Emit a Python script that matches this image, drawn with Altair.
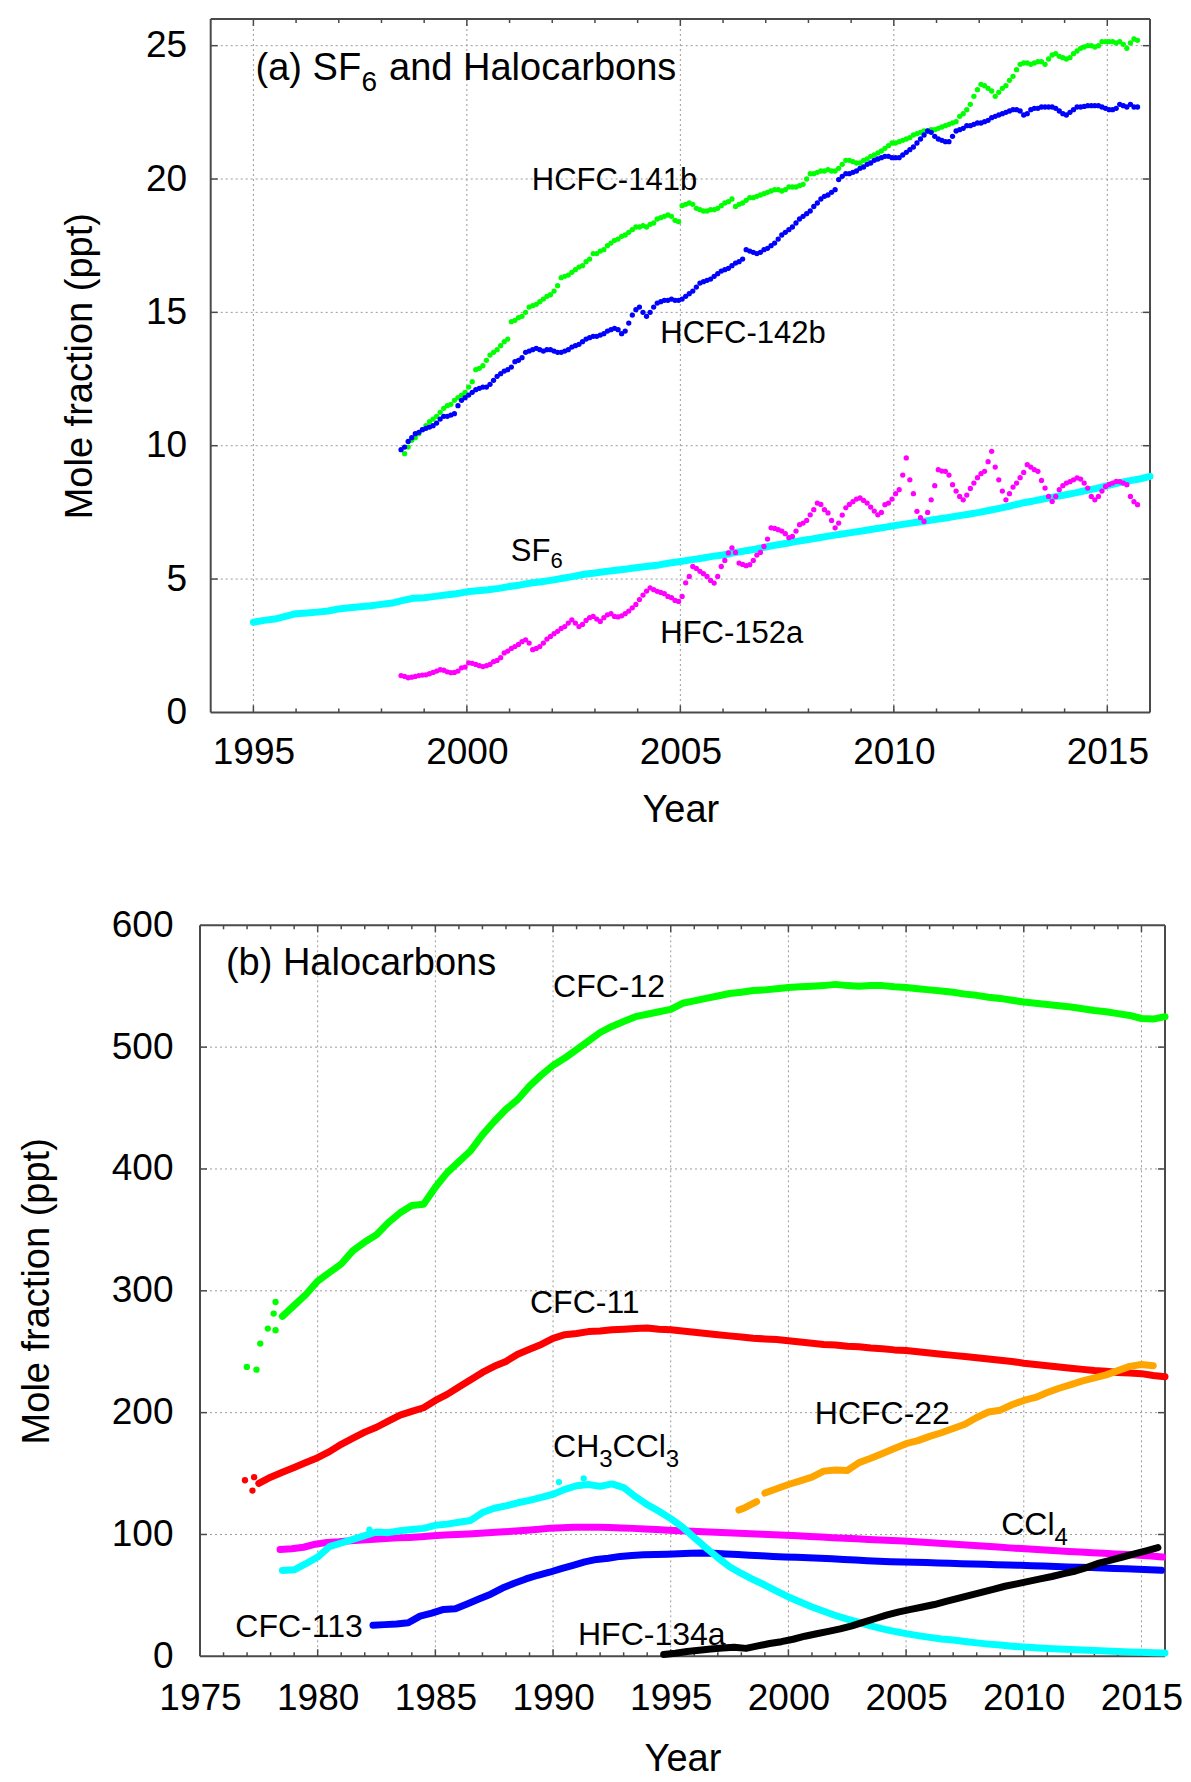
import numpy as np
import pandas as pd
import altair as alt

FONT = "Liberation Sans"

# ---------------- Panel (a): monthly data (ppt) ----------------
HCFC141B_START = 1998 + 6.5 / 12
HCFC141B = [
    9.7, 9.95, 10.2, 10.3, 10.45, 10.6,
    10.75, 10.9, 11.0, 11.1, 11.25, 11.4, 11.5, 11.55, 11.7, 11.8, 11.9, 12.0,
    12.2, 12.4, 12.85, 12.9, 13.0, 13.2, 13.4, 13.5, 13.6, 13.75, 13.9, 14.0,
    14.65, 14.7, 14.8, 14.85, 15.0, 15.2, 15.25, 15.3, 15.4, 15.5, 15.6, 15.66,
    15.8, 16.0, 16.3, 16.35, 16.4, 16.5, 16.6, 16.7, 16.75, 16.9, 17.0, 17.2,
    17.2, 17.3, 17.35, 17.5, 17.6, 17.7, 17.75, 17.85, 17.9, 18.0, 18.1, 18.2,
    18.2, 18.25, 18.2, 18.3, 18.35, 18.5, 18.55, 18.6, 18.65, 18.6, 18.45, 18.4,
    19.0, 19.05, 19.1, 19.05, 18.9, 18.85, 18.8, 18.8, 18.85, 18.85, 18.9, 19.0,
    19.1, 19.15, 19.25, 18.97, 19.05, 19.1, 19.2, 19.3, 19.3, 19.35, 19.4, 19.45,
    19.5, 19.55, 19.6, 19.6, 19.55, 19.6, 19.7, 19.7, 19.7, 19.75, 19.8, 20.0,
    20.2, 20.2, 20.25, 20.3, 20.3, 20.35, 20.3, 20.3, 20.4, 20.55, 20.7, 20.7,
    20.65, 20.6, 20.6, 20.7, 20.75, 20.85, 20.9, 20.98, 21.05, 21.15, 21.25, 21.35,
    21.35, 21.4, 21.45, 21.5, 21.55, 21.65, 21.7, 21.75, 21.8, 21.8, 21.85, 21.85,
    21.9, 21.95, 22.0, 22.05, 22.1, 22.15, 22.35, 22.45, 22.6, 22.8, 23.1, 23.35,
    23.55, 23.5, 23.4, 23.3, 23.1, 23.25, 23.4, 23.5, 23.7, 23.85, 24.1, 24.3,
    24.35, 24.35, 24.3, 24.35, 24.4, 24.4, 24.3, 24.5, 24.65, 24.7, 24.6, 24.55,
    24.5, 24.55, 24.7, 24.8, 24.9, 24.95, 25.0, 25.0, 24.95, 25.0, 25.15, 25.15,
    25.15, 25.15, 25.1, 25.15, 25.05, 24.9, 25.1, 25.25, 25.2,
]

HCFC142B_START = 1998 + 5.5 / 12
HCFC142B = [
    9.85, 9.95, 10.16, 10.3, 10.45, 10.5, 10.6,
    10.65, 10.7, 10.75, 10.85, 11.0, 11.1, 11.1, 11.15, 11.2, 11.5, 11.7, 11.8,
    11.9, 12.0, 12.1, 12.15, 12.2, 12.2, 12.3, 12.45, 12.6, 12.7, 12.8, 12.85,
    12.95, 13.15, 13.2, 13.3, 13.5, 13.55, 13.6, 13.65, 13.6, 13.55, 13.6, 13.6,
    13.55, 13.5, 13.5, 13.55, 13.6, 13.7, 13.75, 13.8, 13.9, 14.0, 14.05, 14.1,
    14.1, 14.15, 14.2, 14.3, 14.35, 14.4, 14.35, 14.2, 14.3, 14.6, 14.9, 15.1,
    15.2, 15.0, 14.85, 15.0, 15.2, 15.35, 15.4, 15.45, 15.45, 15.5, 15.45, 15.45,
    15.5, 15.6, 15.7, 15.8, 15.95, 16.1, 16.15, 16.2, 16.25, 16.35, 16.45, 16.55,
    16.6, 16.65, 16.75, 16.85, 16.9, 17.0, 17.35, 17.3, 17.25, 17.2, 17.25, 17.35,
    17.4, 17.5, 17.6, 17.75, 17.9, 18.0, 18.1, 18.2, 18.35, 18.5, 18.6, 18.7,
    18.8, 18.97, 19.1, 19.25, 19.35, 19.4, 19.5, 19.6, 19.98, 20.1, 20.2, 20.2,
    20.25, 20.3, 20.4, 20.45, 20.55, 20.6, 20.7, 20.75, 20.8, 20.85, 20.85, 20.8,
    20.8, 20.8, 20.9, 21.0, 21.1, 21.2, 21.35, 21.5, 21.65, 21.8, 21.75, 21.6,
    21.5, 21.45, 21.4, 21.4, 21.6, 21.8, 21.85, 21.9, 22.0, 22.0, 22.05, 22.1,
    22.1, 22.15, 22.2, 22.3, 22.35, 22.4, 22.45, 22.5, 22.55, 22.6, 22.6, 22.55,
    22.4, 22.45, 22.6, 22.65, 22.65, 22.7, 22.7, 22.7, 22.7, 22.65, 22.55, 22.45,
    22.4, 22.5, 22.6, 22.7, 22.7, 22.72, 22.75, 22.75, 22.75, 22.75, 22.7, 22.65,
    22.6, 22.6, 22.65, 22.8, 22.75, 22.7, 22.8, 22.7, 22.7,
]

HFC152A_START = 1998 + 5.5 / 12
HFC152A = [
    1.38, 1.35, 1.3, 1.32, 1.35, 1.38, 1.4,
    1.41, 1.45, 1.5, 1.55, 1.6, 1.58, 1.52, 1.49, 1.5, 1.55, 1.67, 1.7,
    1.86, 1.84, 1.8, 1.75, 1.72, 1.75, 1.8, 1.9, 1.95, 2.05, 2.23, 2.3,
    2.4, 2.47, 2.55, 2.65, 2.72, 2.6, 2.35, 2.4, 2.47, 2.6, 2.75, 2.85,
    2.95, 3.04, 3.15, 3.22, 3.35, 3.47, 3.35, 3.22, 3.3, 3.45, 3.55, 3.6,
    3.5, 3.41, 3.55, 3.66, 3.7, 3.6, 3.58, 3.62, 3.7, 3.8, 3.92, 4.05,
    4.23, 4.4, 4.55, 4.67, 4.6, 4.54, 4.5, 4.45, 4.35, 4.3, 4.2, 4.16,
    4.35, 4.86, 5.1, 5.47, 5.4, 5.29, 5.2, 5.1, 4.95, 4.85, 5.1, 5.47,
    5.7, 5.98, 6.17, 6.0, 5.6, 5.55, 5.5, 5.54, 5.7, 5.9, 6.0, 6.22,
    6.5, 6.92, 6.9, 6.85, 6.8, 6.7, 6.55, 6.6, 6.8, 7.04, 7.1, 7.2,
    7.41, 7.6, 7.85, 7.8, 7.6, 7.48, 7.2, 6.92, 7.1, 7.4, 7.67, 7.8,
    7.9, 8.0, 8.04, 7.95, 7.85, 7.7, 7.55, 7.41, 7.5, 7.79, 7.85, 8.0,
    8.2, 8.35, 8.9, 9.54, 8.72, 8.2, 7.54, 7.3, 7.16, 7.5, 7.97, 8.5,
    9.1, 9.05, 9.04, 8.9, 8.54, 8.3, 8.1, 7.97, 8.15, 8.4, 8.6, 8.8,
    8.95, 9.04, 9.4, 9.79, 9.2, 8.72, 8.3, 7.97, 8.2, 8.45, 8.6, 8.8,
    9.0, 9.29, 9.2, 9.1, 9.04, 8.7, 8.41, 8.1, 7.91, 8.1, 8.35, 8.5,
    8.6, 8.65, 8.72, 8.79, 8.75, 8.6, 8.41, 8.1, 7.97, 8.1, 8.3, 8.47,
    8.55, 8.6, 8.66, 8.65, 8.6, 8.54, 8.1, 7.9, 7.79,
]
MONTH = 1 / 12

SF6_START = 1995.0
SF6_STEP = 0.25
SF6 = [
    3.38, 3.45, 3.5, 3.6, 3.7, 3.73, 3.76, 3.8, 3.88, 3.92, 3.96, 4.0,
    4.05, 4.1, 4.2, 4.28, 4.3, 4.35, 4.4, 4.45, 4.52, 4.56, 4.6, 4.65,
    4.72, 4.78, 4.85, 4.9, 4.96, 5.03, 5.1, 5.18, 5.23, 5.28, 5.33, 5.38,
    5.43, 5.48, 5.53, 5.6, 5.66, 5.72, 5.78, 5.85, 5.9, 5.98, 6.05, 6.12,
    6.2, 6.28, 6.34, 6.42, 6.48, 6.55, 6.62, 6.68, 6.74, 6.8, 6.87, 6.93,
    7.0, 7.06, 7.12, 7.18, 7.24, 7.3, 7.37, 7.43, 7.5, 7.58, 7.66, 7.75,
    7.85, 7.92, 8.0, 8.08, 8.15, 8.23, 8.32, 8.4, 8.5, 8.6, 8.68, 8.75, 8.85,
]

# ---------------- Panel (b): half-yearly data (ppt) ----------------
B_STEP = 0.5
CFC12_START = 1978.5
CFC12 = [
    279, 288, 297, 308, 315, 322, 333, 340, 346, 356, 364, 370, 371, 385, 397, 406,
    415, 428, 439, 449, 457, 468, 477, 485, 491, 498, 505, 512, 517, 521, 525, 527,
    529, 531, 536, 538, 540, 542, 544, 545, 546.5, 547, 548, 549, 549.5, 550, 550.5,
    551.5, 550.5, 550, 550.5, 550.5, 549.5, 549, 548, 547, 546, 545, 543.5, 542.5,
    541, 540, 538.5, 537, 536, 535, 534, 533, 531.5, 530, 529, 527.5, 526, 523.5, 523, 525,
]
CFC12_EARLY_YEARS = [1976.99, 1977.4, 1977.56, 1977.88, 1978.13, 1978.21, 1978.21]
CFC12_EARLY = [237.5, 235.3, 256.7, 269, 281.3, 290.8, 267.6]

CFC11_START = 1977.5
CFC11 = [
    142, 147, 151, 155, 159, 163, 168, 174, 179, 184, 188, 193, 198, 201, 204, 210,
    215, 221, 227, 233, 238, 242, 248, 252, 256, 261, 264, 265, 266.5, 267, 268, 268.5,
    269, 269.5, 268.5, 268, 267, 266, 265, 264, 263, 262, 261, 260.5, 260, 259, 258,
    257, 256, 255.5, 254.5, 254, 253, 252.5, 251.5, 251, 250, 249, 248, 247, 246, 245,
    244, 243, 242, 240.5, 239.5, 238.5, 237.5, 236.5, 235.5, 234.5, 234, 233, 232.5,
    232, 230.5, 229.5,
]
CFC11_EARLY_YEARS = [1976.91, 1977.23, 1977.3]
CFC11_EARLY = [144.5, 136, 147]

HCFC22_A_START = 1997.9
HCFC22_A_STEP = 0.25
HCFC22_A = [120, 122, 124.5, 127]
HCFC22_B_START = 1999.0
HCFC22_B = [
    134, 137.5, 141, 144, 147, 152, 153, 152.5, 159, 162.5, 166.5, 170.5, 174.5, 177,
    180.5, 183.5, 187, 190.5, 196, 200.5, 202, 206.5, 210, 212.5, 216.5, 220, 223,
    226, 228.5, 231, 234.5, 238, 239.5, 238.5,
]

CH3CCL3_START = 1978.5
CH3CCL3 = [
    70.5, 71, 76, 81.5, 90, 93, 96, 99, 102, 101.5, 103, 104, 105, 107.5, 108.5, 110,
    111.5, 118, 121.5, 123.5, 126, 128, 130.5, 133, 137, 140, 141, 139.5, 141.5, 138.5,
    131, 124.5, 119, 113, 106, 97.5, 89, 81, 73.5, 68, 63, 58.5, 53.5, 48.7, 44.5, 40.5,
    37, 33.5, 30.5, 27.8, 25, 22.5, 20.5, 18.6, 17, 15.5, 14.2, 13.3, 12.2, 11, 10,
    9.2, 8.3, 7.6, 7, 6.4, 6, 5.6, 5.2, 4.8, 4.4, 4, 3.6, 3.3, 3, 2.7,
]
CH3CCL3_EXTRA_YEARS = [1982.2, 1990.25, 1991.3]
CH3CCL3_EXTRA = [104, 143, 146]

CCL4_START = 1978.4
CCL4 = [
    87.6, 88.2, 89.5, 92, 93.5, 94, 94.8, 95.5, 96, 96.7, 97.2, 97.6, 98.2, 99, 99.5,
    100, 100.4, 101, 101.6, 102.2, 102.8, 103.5, 104.2, 105.2, 105.6, 105.9, 106, 106,
    105.8, 105.4, 105, 104.5, 104, 103.5, 103.1, 102.7, 102.3, 101.9, 101.4, 101,
    100.6, 100.2, 99.8, 99.3, 98.9, 98.4, 97.9, 97.4, 96.9, 96.4, 95.9, 95.4, 95,
    94.6, 94, 93.4, 92.8, 92.2, 91.6, 91, 90.3, 89.7, 89, 88.4, 87.8, 87.2, 86.7,
    86.1, 85.6, 85, 84.5, 84, 83.5, 83, 82.4, 81.5,
]

CFC113_START = 1982.35
CFC113 = [
    25.4, 26, 26.6, 27.5, 33, 35.5, 38.5, 39, 43, 47, 51, 56, 60, 63.5, 66.5, 69, 72,
    74.7, 77.5, 79.5, 80.5, 82, 82.8, 83.3, 83.6, 83.8, 84.2, 84.6, 84.8, 84.5, 84,
    83.5, 83, 82.5, 82, 81.6, 81.2, 80.8, 80.4, 80, 79.5, 79, 78.5, 78.1, 77.7, 77.4,
    77.1, 76.9, 76.6, 76.3, 76, 75.8, 75.5, 75.2, 75, 74.7, 74.4, 74.1, 73.8, 73.4,
    73.1, 72.8, 72.5, 72.1, 71.8, 71.4, 71, 70.6,
]

HFC134A_START = 1994.7
HFC134A = [
    1.5, 2.5, 4, 5, 6, 6.8, 7.5, 6.5, 8.5, 10.5, 12, 14, 16.5, 18.5, 20.5, 22.5, 25,
    28, 31, 34, 36.5, 38.5, 40.5, 42.5, 45, 47.5, 50, 52.5, 55, 57.5, 59.5, 61.5,
    63.5, 65.5, 67.8, 70, 73, 76.5, 79, 81.5, 84, 86.5, 89.2,
]

# ---------------- layout / style constants ----------------
A_W, A_H = 950, 693.4
A_X0, A_X1 = 1994, 2016
A_GAP = 10.7                     # frame starts this many px right of layout edge
A_PPY = (A_W - A_GAP) / (A_X1 - A_X0)
A_YMAX = 26
B_W, B_H = 965, 731
B_X0, B_X1 = 1975, 2016
B_YMAX = 600

FRAME_C = "#4a4a4a"
GRID_C = "#9a9a9a"
MAJOR_L, MINOR_L = 7, 4


class Panel:
    def __init__(self, xscale, yscale, xaxis, yaxis):
        self.xs, self.ys, self.xa, self.ya = xscale, yscale, xaxis, yaxis

    def X(self, f):
        return alt.X(f, type="quantitative", scale=self.xs, axis=self.xa)

    def Y(self, f):
        return alt.Y(f, type="quantitative", scale=self.ys, axis=self.ya)


def make_axes(xvals, yvals, x_lpad, y_lpad, xtitle_x, xtitle_y, ytitle_x, H):
    ax = alt.Axis(values=xvals, format="d", labelFontSize=37, labelPadding=x_lpad,
                  labelFlush=False, labelOverlap=False, ticks=False, tickSize=0,
                  domain=False, grid=False, title="Year", titleFontSize=38,
                  titleFontWeight="normal", titleX=xtitle_x, titleY=xtitle_y,
                  titleAlign="center", titleBaseline="alphabetic")
    ay = alt.Axis(values=yvals, format="d", labelFontSize=37, labelPadding=y_lpad,
                  labelFlush=False, labelOverlap=False, ticks=False, tickSize=0,
                  domain=False, grid=False, title="Mole fraction (ppt)",
                  titleFontSize=38, titleFontWeight="normal", titleAngle=270,
                  titleX=ytitle_x, titleY=H / 2, titleAlign="center",
                  titleBaseline="alphabetic")
    return ax, ay


def series(start, step, vals):
    return pd.DataFrame({"year": [start + step * i for i in range(len(vals))],
                         "value": vals})


def vrules(P, xs_vals, y0, y1, color, width, dash=None):
    kw = dict(color=color, strokeWidth=width)
    if dash:
        kw["strokeDash"] = dash
    df = pd.DataFrame({"year": xs_vals})
    return alt.Chart(df).mark_rule(**kw).encode(
        x=P.X("year"), y=alt.value(y0), y2=alt.value(y1))


def hrules(P, ys_vals, xa, xb, color, width, dash=None):
    kw = dict(color=color, strokeWidth=width)
    if dash:
        kw["strokeDash"] = dash
    df = pd.DataFrame({"value": ys_vals, "year": [xa] * len(ys_vals),
                       "year2": [xb] * len(ys_vals)})
    return alt.Chart(df).mark_rule(**kw).encode(
        x=P.X("year"), x2="year2:Q", y=P.Y("value"))


def hticks(P, ys_vals, px0, px1):
    df = pd.DataFrame({"value": ys_vals})
    return alt.Chart(df).mark_rule(color=FRAME_C, strokeWidth=1.5).encode(
        y=P.Y("value"), x=alt.value(px0), x2=alt.value(px1))


def texts(P, items):
    out = []
    for t, x, y, size, dx, dy in items:
        df = pd.DataFrame({"year": [x], "value": [y], "t": [t]})
        out.append(alt.Chart(df).mark_text(
            font=FONT, fontSize=size, align="left", baseline="alphabetic",
            dx=dx, dy=dy, color="black").encode(
            x=P.X("year"), y=P.Y("value"), text="t:N"))
    return out


def frame_and_ticks(P, x0, x1, ymax, W, H, left_px, xmajor, xminor, ymajor):
    return [
        vrules(P, xmajor, H, H - MAJOR_L, FRAME_C, 1.5),
        vrules(P, xminor, H, H - MINOR_L, FRAME_C, 1.5),
        vrules(P, xmajor, 0, MAJOR_L, FRAME_C, 1.5),
        vrules(P, xminor, 0, MINOR_L, FRAME_C, 1.5),
        hticks(P, ymajor, left_px, left_px + MAJOR_L),
        hticks(P, ymajor, W, W - MAJOR_L),
        vrules(P, [x0, x1], 0, H, FRAME_C, 2),
        hrules(P, [0, ymax], x0, x1, FRAME_C, 2),
    ]


def points(P, df, col, size):
    return alt.Chart(df).mark_circle(color=col, size=size, opacity=1).encode(
        x=P.X("year"), y=P.Y("value"))


def line(P, df, col, width):
    return alt.Chart(df).mark_line(color=col, strokeWidth=width, strokeCap="round",
                                   strokeJoin="round").encode(
        x=P.X("year"), y=P.Y("value"))


# ---------------- Panel (a) ----------------
a_xticks = [1995, 2000, 2005, 2010, 2015]
a_xminor = [y for y in range(1995, 2016) if y % 5 != 0]
a_yticks = [5, 10, 15, 20, 25]

ax_a, ay_a = make_axes(a_xticks, [0] + a_yticks, 22.5, 13.3,
                       A_GAP + (A_W - A_GAP) / 2, 109, -109, A_H)
PA = Panel(alt.Scale(domain=[A_X0 - A_GAP / A_PPY, A_X1], nice=False, zero=False),
           alt.Scale(domain=[0, A_YMAX], nice=False, zero=False), ax_a, ay_a)

layers_a = [
    vrules(PA, a_xticks, 0, A_H, GRID_C, 1, [2, 3]),
    hrules(PA, a_yticks, A_X0, A_X1, GRID_C, 1, [2, 3]),
]
layers_a += frame_and_ticks(PA, A_X0, A_X1, A_YMAX, A_W, A_H, A_GAP,
                            a_xticks, a_xminor, a_yticks)
layers_a.append(line(PA, series(SF6_START, SF6_STEP, SF6), "#00ffff", 7))
layers_a.append(points(PA, series(HCFC141B_START, MONTH, HCFC141B), "#00ff00", 28))
layers_a.append(points(PA, series(HCFC142B_START, MONTH, HCFC142B), "#0000ff", 28))
layers_a.append(points(PA, series(HFC152A_START, MONTH, HFC152A), "#ff00ff", 28))

ANN_A = [
    ("(a) SF", 1995.05, 23.72, 38, 0, 0),
    ("6", 1995.05, 23.72, 28, 106, 11),
    ("and Halocarbons", 1995.05, 23.72, 38, 133.5, 0),
    ("HCFC-141b", 2001.52, 19.6, 31, 0, 0),
    ("HCFC-142b", 2004.53, 13.86, 31, 0, 0),
    ("SF", 2001.03, 5.66, 31, 0, 0),
    ("6", 2001.03, 5.66, 22, 39.6, 7),
    ("HFC-152a", 2004.53, 2.6, 31, 0, 0),
]
layers_a += texts(PA, ANN_A)
panel_a = alt.layer(*layers_a).properties(width=A_W, height=A_H)

# ---------------- Panel (b) ----------------
b_xticks = [1975, 1980, 1985, 1990, 1995, 2000, 2005, 2010, 2015]
b_xminor = [y for y in range(1976, 2016) if y % 5 != 0]
b_yticks = [100, 200, 300, 400, 500]

ax_b, ay_b = make_axes(b_xticks, [0] + b_yticks + [B_YMAX], 24.3, 27,
                       B_W / 2, 114, -151.5, B_H)
PB = Panel(alt.Scale(domain=[B_X0, B_X1], nice=False, zero=False),
           alt.Scale(domain=[0, B_YMAX], nice=False, zero=False), ax_b, ay_b)

layers_b = [
    vrules(PB, b_xticks[1:], 0, B_H, GRID_C, 1, [2, 3]),
    hrules(PB, b_yticks, B_X0, B_X1, GRID_C, 1, [2, 3]),
]
layers_b += frame_and_ticks(PB, B_X0, B_X1, B_YMAX, B_W, B_H, 0,
                            b_xticks[1:], b_xminor, b_yticks)

LW = 7
layers_b += [
    line(PB, series(CFC12_START, B_STEP, CFC12), "#00ff00", LW),
    points(PB, pd.DataFrame({"year": CFC12_EARLY_YEARS, "value": CFC12_EARLY}), "#00ff00", 40),
    line(PB, series(CFC11_START, B_STEP, CFC11), "#ff0000", LW),
    points(PB, pd.DataFrame({"year": CFC11_EARLY_YEARS, "value": CFC11_EARLY}), "#ff0000", 40),
    line(PB, series(CCL4_START, B_STEP, CCL4), "#ff00ff", LW),
    line(PB, series(CFC113_START, B_STEP, CFC113), "#0000ff", LW),
    line(PB, series(CH3CCL3_START, B_STEP, CH3CCL3), "#00ffff", LW),
    points(PB, pd.DataFrame({"year": CH3CCL3_EXTRA_YEARS, "value": CH3CCL3_EXTRA}), "#00ffff", 40),
    line(PB, series(HCFC22_A_START, HCFC22_A_STEP, HCFC22_A), "#ffa500", LW),
    line(PB, series(HCFC22_B_START, B_STEP, HCFC22_B), "#ffa500", LW),
    line(PB, series(HFC134A_START, B_STEP, HFC134A), "#000000", LW),
]

ANN_B = [
    ("(b) Halocarbons", 1976.1, 559, 38, 0, 0),
    ("CFC-12", 1990.0, 540.9, 32, 0, 0),
    ("CFC-11", 1989.02, 281.5, 32, 0, 0),
    ("CH", 1990.0, 163.6, 32, 0, 0),
    ("3", 1990.0, 163.6, 24, 46.2, 10),
    ("CCl", 1990.0, 163.6, 32, 59.5, 0),
    ("3", 1990.0, 163.6, 24, 112.8, 10),
    ("HCFC-22", 2001.12, 191, 32, 0, 0),
    ("CCl", 2009.04, 99.3, 32, 0, 0),
    ("4", 2009.04, 99.3, 24, 53.3, 10),
    ("CFC-113", 1976.5, 15.8, 32, 0, 0),
    ("HFC-134a", 1991.06, 9.0, 32, 0, 0),
]
layers_b += texts(PB, ANN_B)
panel_b = alt.layer(*layers_b).properties(width=B_W, height=B_H)

chart = (
    alt.vconcat(panel_a, panel_b, spacing=212.3, bounds="flush")
    .properties(padding={"left": 18, "top": 18, "right": 2, "bottom": 2},
                background="white")
    .configure_view(strokeWidth=0)
    .configure_axis(labelFont=FONT, titleFont=FONT, labelColor="black",
                    titleColor="black")
)

chart.save("out.html", embed_options={"renderer": "svg", "actions": False})
